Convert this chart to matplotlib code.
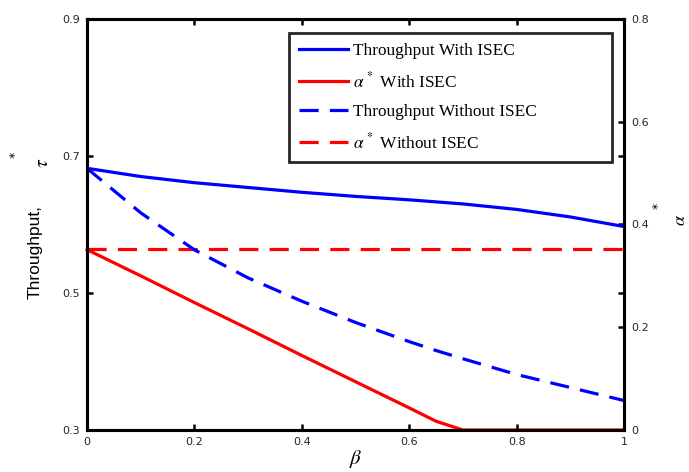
import numpy as np
import matplotlib
matplotlib.use("Agg")
import matplotlib.pyplot as plt

plt.rcParams['mathtext.fontset'] = 'stix'

beta = [0, 0.1, 0.2, 0.3, 0.4, 0.5, 0.6, 0.65, 0.7, 0.8, 0.9, 1.0]

tput_isec = [0.682, 0.670, 0.661, 0.654, 0.647, 0.641, 0.636, 0.633, 0.630, 0.622, 0.611, 0.597]
tput_no_isec = [0.682, 0.617, 0.563, 0.522, 0.488, 0.457, 0.429, 0.416, 0.404, 0.381, 0.362, 0.343]
alpha_isec = [0.351, 0.300, 0.248, 0.197, 0.145, 0.094, 0.043, 0.017, 0.0, 0.0, 0.0, 0.0]
alpha_no_isec = [0.353] * len(beta)

xticks = [0, 0.2, 0.4, 0.6, 0.8, 1]
left_ticks = [0.3, 0.5, 0.7, 0.9]
right_ticks = [0, 0.2, 0.4, 0.6, 0.8]

W, H = 689, 472
fig = plt.figure(figsize=(6.89, 4.72), dpi=100)
ax = fig.add_axes([0.1263, 0.089, 0.7794, 0.8708])
ax2 = ax.twinx()

lw = 2.3
dash = (6, 3.5)
l1, = ax.plot(beta, tput_isec, color='#0000ff', lw=lw, label='Throughput With ISEC')
l3, = ax.plot(beta, tput_no_isec, color='#0000ff', lw=lw, dashes=dash,
              label='Throughput Without ISEC' + '\u00a0' * 15)
l2, = ax2.plot(beta, alpha_isec, color='#ff0000', lw=lw, clip_on=False, zorder=3,
               label=r'$\alpha^{\,*}$ With ISEC')
l4, = ax2.plot(beta, alpha_no_isec, color='#ff0000', lw=lw, dashes=dash,
               label=r'$\alpha^{\,*}$ Without ISEC')

ax.set_xlim(0, 1)
ax.set_ylim(0.3, 0.9)
ax2.set_ylim(0, 0.8)
ax.set_xticks(xticks)
ax.set_xticklabels(['0', '0.2', '0.4', '0.6', '0.8', '1'])
ax.set_yticks(left_ticks)
ax.set_yticklabels(['0.3', '0.5', '0.7', '0.9'])
ax2.set_yticks(right_ticks)
ax2.set_yticklabels(['0', '0.2', '0.4', '0.6', '0.8'])

for a in (ax, ax2):
    for s in a.spines.values():
        s.set_linewidth(2.2)
        s.set_color('black')
ax.tick_params(axis='both', direction='in', length=4, width=1.8, labelsize=8,
               top=True, right=True, labelright=False, pad=5)
ax2.tick_params(axis='y', direction='in', length=4, width=1.8, labelsize=8, pad=5)
for lab in ax.get_xticklabels() + ax.get_yticklabels() + ax2.get_yticklabels():
    lab.set_fontfamily('DejaVu Sans')
    lab.set_color('#262626')

ax.set_xlabel(r'$\beta$', fontsize=15, labelpad=1)

# left label: "Throughput," then tau and its star, placed like the original
ax.set_ylabel('Throughput,', fontsize=12.5, family='Liberation Sans')
ax.yaxis.set_label_coords(-0.082, 0.433)
fig.text(42 / W, 1 - 163 / H, r'$\tau$', fontsize=14, rotation=90, ha='center', va='center')
fig.text(15 / W, 1 - 155 / H, '*', fontsize=9, rotation=90, ha='center', va='center')

# right label: alpha and its star
fig.text(680 / W, 1 - 220 / H, r'$\alpha$', fontsize=13, rotation=90, ha='center', va='center')
fig.text(658 / W, 1 - 206 / H, '*', fontsize=9, rotation=90, ha='center', va='center')

leg = ax.legend(handles=[l1, l2, l3, l4], loc='upper right',
                bbox_to_anchor=(0.9777, 0.966), borderaxespad=0,
                fancybox=False, framealpha=1,
                edgecolor='#262626', handlelength=2.8, handletextpad=0.3,
                labelspacing=0.72, borderpad=0.58,
                prop={'family': 'Liberation Serif', 'size': 12.4})
leg.get_frame().set_linewidth(2.0)
leg.set_zorder(10)
ax.set_zorder(ax2.get_zorder() + 1)
ax.patch.set_visible(False)

fig.savefig('out.png', dpi=100)
